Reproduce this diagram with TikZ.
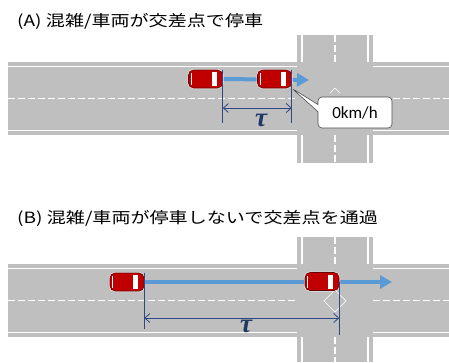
\documentclass[tikz,border=0pt]{standalone}
\usepackage{fontspec}
\newfontfamily\jpfont{Noto Sans CJK JP}
\newfontfamily\speedfont{Carlito}
\newfontfamily\taufont{Liberation Serif}
\usetikzlibrary{arrows.meta,shapes.callouts,backgrounds}

\definecolor{roadgray}{RGB}{191,191,191}
\definecolor{carred}{RGB}{192,0,0}
\definecolor{flowblue}{RGB}{91,155,213}
\definecolor{dimnavy}{RGB}{47,72,130}
\definecolor{taunavy}{RGB}{32,56,100}

\tikzset{
  road/.style={fill=roadgray},
  lane/.style={white, line width=1.3pt},
  centre/.style={white, line width=1.2pt, dash pattern=on 6.5pt off 3.5pt},
  stopmark/.style={white, line width=0.6pt},
  carbox/.style={fill=carred, draw=carred!55!black, line width=0.6pt,
    rounded corners=5pt, minimum width=34pt, minimum height=18pt, inner sep=0pt,
    preaction={draw=white!80!gray, line width=2pt},
    path picture={
      \fill[white, sharp corners] ([xshift=-11pt,yshift=-2pt]path picture bounding box.north east)
        rectangle ([xshift=-6pt,yshift=2pt]path picture bounding box.south east);
      \fill[white, sharp corners] ([xshift=2pt,yshift=-3pt]path picture bounding box.north west)
        rectangle ([xshift=3pt,yshift=3pt]path picture bounding box.south west);
    }},
  flowarrow/.style={flowblue, line width=4pt, -{Triangle[length=12pt,width=13pt]}},
  dimline/.style={dimnavy, line width=0.8pt},
  dimspan/.style={dimnavy, line width=0.8pt,
    {Straight Barb[length=5pt,width=9pt]}-{Straight Barb[length=5pt,width=9pt]}},
  taulbl/.style={text=taunavy, font=\taufont\bfseries\itshape\fontsize{27}{29}\selectfont, inner sep=0pt},
  heading/.style={anchor=west, inner sep=0pt, font=\jpfont\fontsize{15.5}{17}\selectfont},
}

\begin{document}
\begin{tikzpicture}[x=1pt,y=-1pt]
\useasboundingbox (0,0) rectangle (449,362);

% two crossroads, (A) on top and (B) below
\begin{scope}[on background layer]
\fill[white] (0,0) rectangle (449,362);
\foreach \off/\top/\bot in {0/35/163, 202/237/362} {
  \fill[road] (8,{62+\off}) rectangle (449,{135+\off});
  \fill[road] (297,\top) rectangle (373,\bot);
  \foreach \y in {66.5,130.5} {
    \draw[lane] (8,{\y+\off}) -- (297,{\y+\off});
    \draw[lane] (373,{\y+\off}) -- (449,{\y+\off});
  }
  \foreach \x in {302,368} {
    \draw[lane] (\x,\top) -- (\x,{62+\off});
    \draw[lane] (\x,{135+\off}) -- (\x,\bot);
  }
  \draw[centre] (8,{98.5+\off}) -- (297,{98.5+\off});
  \draw[centre] (373,{98.5+\off}) -- (449,{98.5+\off});
  \draw[centre] (335,\top) -- (335,{62+\off});
  \draw[centre] (335,{135+\off}) -- (335,\bot);
}
\draw[stopmark] (330,93) -- (335,88) -- (340,93);
\draw[stopmark] (335,290) -- (346,301) -- (335,312) -- (324,301) -- cycle;
\end{scope}

% titles
\node[heading] (titleA) at (17,21.5) {\scalebox{1.23}[1]{(A) 混雑/車両が交差点で停車}};
\node[heading] (titleB) at (17,218) {\scalebox{1.23}[1]{(B) 混雑/車両が停車しないで交差点を通過}};

% cars
\node[carbox] (carA1) at (205.5,79) {};
\node[carbox] (carA2) at (274.5,79) {};
\node[carbox] (carB1) at (127,282) {};
\node[carbox] (carB2) at (322,281.5) {};

% movement
\coordinate (headA) at (309,80);
\coordinate (headB) at (392,282);
\begin{scope}[on background layer]
\draw[flowarrow] (carA1.east) -- (headA);
\draw[flowarrow] (carB1.east) -- (headB);
\end{scope}

% time gap tau
\coordinate (footA1) at (carA1.east |- 0,123);
\coordinate (footA2) at (carA2.east |- 0,123);
\coordinate (spanA1) at (carA1.east |- 0,108);
\coordinate (spanA2) at (carA2.east |- 0,108);
\draw[dimline] (carA1.north east) -- (footA1);
\draw[dimline] (carA2.north east) -- (footA2);
\draw[dimspan] (spanA1) -- (spanA2);
\node[taulbl] (tauA) at (261,120) {τ};

\coordinate (footB1) at (carB1.east |- 0,329);
\coordinate (footB2) at (carB2.east |- 0,335);
\coordinate (spanB1) at (carB1.east |- 0,318);
\coordinate (spanB2) at (carB2.east |- 0,318);
\draw[dimline] (carB1.north east) -- (footB1);
\draw[dimline] (carB2.east) -- (footB2);
\draw[dimspan] (spanB1) -- (spanB2);
\node[taulbl] (tauB) at (246,326) {τ};

% speed of the stopped car
\node[rectangle callout, draw=black!70, fill=white, line width=0.6pt,
  rounded corners=4pt, minimum width=74pt, minimum height=31pt,
  callout absolute pointer={(carA2.south east)}, font=\speedfont\fontsize{17}{19}\selectfont]
  (speed) at (355,112.5) {0km/h};
\end{tikzpicture}
\end{document}
